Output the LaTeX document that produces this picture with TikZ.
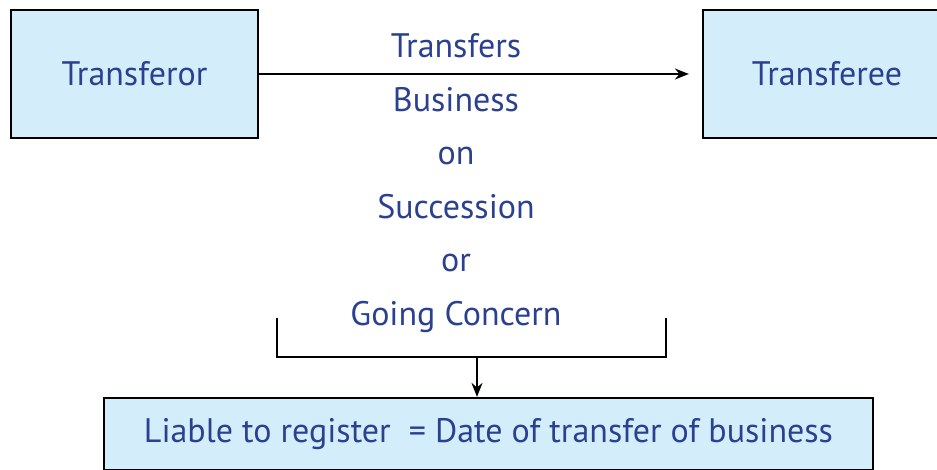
\documentclass[tikz,border=0pt]{standalone}
\usepackage{fontspec}
\setmainfont{PT Sans}
\usetikzlibrary{arrows.meta}
\definecolor{boxfill}{HTML}{D3EEFA}
\definecolor{textblue}{HTML}{2B4190}
\tikzset{
  party/.style={draw=black, fill=boxfill, line width=2.2pt, text=textblue, inner sep=0pt,
    font=\fontsize{34}{40}\selectfont},
  chainword/.style={text=textblue, inner sep=0pt, anchor=base, font=\fontsize{34}{40}\selectfont},
  flow/.style={-{Stealth[length=14pt, width=11pt]}, line width=1.8pt}
}
\begin{document}
\begin{tikzpicture}[x=1pt, y=-1pt, line width=1.8pt]
  \useasboundingbox (0,0) rectangle (937,470);
  \clip (0,0) rectangle (937,470);
  % the two parties
  \node[party, minimum width=247pt, minimum height=128pt] (transferor) at (134.5,74) {Transferor};
  \node[party, minimum width=248pt, minimum height=128pt] (transferee) at (827,74) {Transferee};
  \draw[flow, shorten >=13pt] (transferor.east) -- (transferee.west);
  % words between them
  \node[chainword] (transfers)  at (456,58)    {Transfers};
  \node[chainword] (business)   at (456,111.5) {Business};
  \node[chainword] (on)         at (456,165)   {on};
  \node[chainword] (succession) at (456,218.5) {Succession};
  \node[chainword] (or)         at (456,272)   {or};
  \node[chainword] (concern)    at (456,325.5) {Going Concern};
  % bracket and result
  \coordinate (bracketl) at (277,318);
  \coordinate (bracketr) at (666,318);
  \coordinate (bracketm) at (477,357);
  \node[party, minimum width=769pt, minimum height=72pt] (liable) at (488.5,434)
    {Liable to register\ \ = Date of transfer of business};
  \draw (bracketl) |- (bracketm) -| (bracketr);
  \draw[flow] (bracketm) -- (bracketm |- liable.north);
\end{tikzpicture}
\end{document}
